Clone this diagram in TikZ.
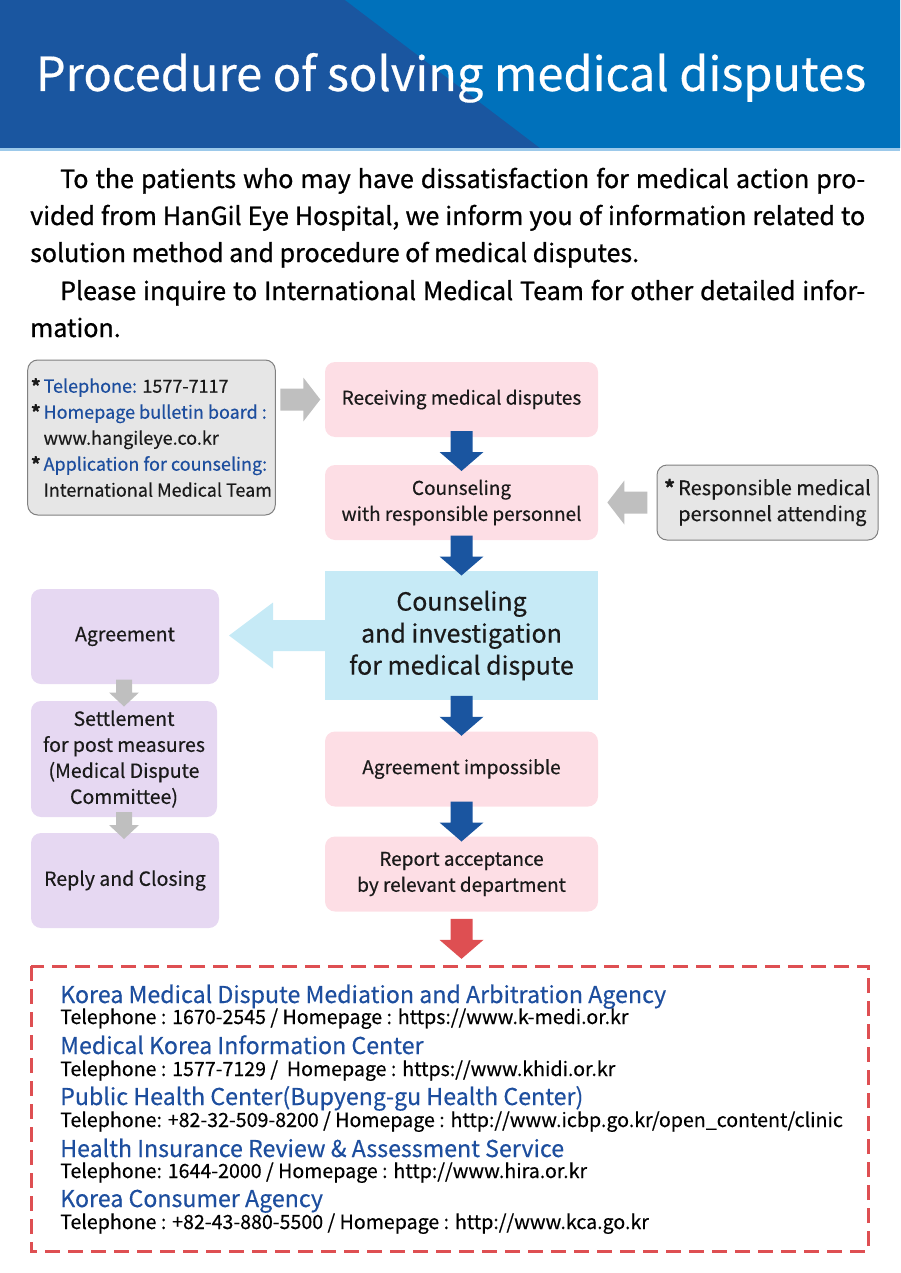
\documentclass[tikz,border=0pt]{standalone}
\usepackage{fontspec}
\setmainfont{Noto Sans CJK KR}[FakeBold=0.4]
\newfontfamily\paraface{Noto Sans CJK KR}[FakeBold=0.9]
\usetikzlibrary{calc}

\definecolor{hdark}{HTML}{1A56A0}
\definecolor{hlight}{HTML}{0071BB}
\definecolor{hline}{HTML}{9CC9EA}
\definecolor{pinkbg}{HTML}{FDDEE5}
\definecolor{skybg}{HTML}{C6EAF6}
\definecolor{lilacbg}{HTML}{E6D8F2}
\definecolor{greybg}{HTML}{E6E6E6}
\definecolor{greyline}{HTML}{808080}
\definecolor{greyarr}{HTML}{BFBFBF}
\definecolor{arrblue}{HTML}{1A55A0}
\definecolor{arrred}{HTML}{DE4F52}
\definecolor{txtblue}{HTML}{1D4E9E}
\definecolor{txtdark}{HTML}{1A1A1A}

\tikzset{
  pinkbox/.style={rounded corners=10pt, fill=pinkbg, minimum width=273pt, minimum height=75pt, align=center, text=txtdark, font=\fontsize{19}{26}\selectfont},
  skybox/.style={fill=skybg, minimum width=273pt, minimum height=129pt, align=center, text=txtdark, font=\fontsize{25}{32}\selectfont},
  lilacbox/.style={rounded corners=10pt, fill=lilacbg, minimum width=188pt, align=center, text=txtdark, font=\fontsize{19.5}{26}\selectfont},
  notebox/.style={rounded corners=10pt, fill=greybg, draw=greyline, line width=1pt, align=left, text=txtdark, font=\fontsize{18}{26}\selectfont},
  paraline/.style={anchor=base west, inner sep=0pt, text=black, font=\paraface\fontsize{25}{37}\selectfont},
  orgname/.style={anchor=base west, inner sep=0pt, text=txtblue, font=\fontsize{23.2}{30}\selectfont},
  orginfo/.style={anchor=base west, inner sep=0pt, text=black, font=\fontsize{19.6}{24}\selectfont},
  downarr/.pic={\path[pic actions] (-11,-20) -- (11,-20) -- (11,1) -- (22,1) -- (0,20) -- (-22,1) -- (-11,1) -- cycle;},
  smalldown/.pic={\path[pic actions] (-8,-13) -- (8,-13) -- (8,0) -- (15,0) -- (0,14) -- (-15,0) -- (-8,0) -- cycle;},
  rightarr/.pic={\path[pic actions] (-20,-11) -- (3,-11) -- (3,-22) -- (20,0) -- (3,22) -- (3,11) -- (-20,11) -- cycle;},
  leftarr/.pic={\path[pic actions] (20,-11) -- (-3,-11) -- (-3,-22) -- (-20,0) -- (-3,22) -- (-3,11) -- (20,11) -- cycle;},
  bigleftarr/.pic={\path[pic actions] (54,-15.5) -- (1,-15.5) -- (1,-33) -- (-43,0) -- (1,33) -- (1,15.5) -- (54,15.5) -- cycle;}
}
\newcommand{\bull}{\textbf{*}\,}

\begin{document}
\begin{tikzpicture}[x=1pt,y=-1pt]
\useasboundingbox (0,0) rectangle (900,1273);

% header
\fill[hdark] (0,0) rectangle (900,148);
\fill[hlight] (345,0) -- (900,0) -- (900,148) -- (540,148) -- cycle;
\fill[hline] (0,148) rectangle (900,151);
\node[anchor=base, text=white, font=\fontsize{47}{56}\selectfont] (title) at (451,91) {Procedure of solving medical disputes};

% introduction
\node[paraline] (p1) at (60,188) {\makebox[805pt][s]{To the patients who may have dissatisfaction for medical action pro-}};
\node[paraline] (p2) at (30,225) {\makebox[835pt][s]{vided from HanGil Eye Hospital, we inform you of information related to}};
\node[paraline] (p3) at (30,262) {solution method and procedure of medical disputes.};
\node[paraline] (p4) at (60,300) {\makebox[805pt][s]{Please inquire to International Medical Team for other detailed infor-}};
\node[paraline] (p5) at (30,337) {mation.};

% flow
\node[notebox, minimum width=241pt, minimum height=155pt] (info) at (151.5,437.5) {\bull\textcolor{txtblue}{Telephone:} 1577-7117\\
\bull\textcolor{txtblue}{Homepage bulletin board :}\\
\phantom{\bull}www.hangileye.co.kr\\
\bull\textcolor{txtblue}{Application for counseling:}\\
\phantom{\bull}International Medical Team};
\node[pinkbox] (recv) at (461.5,399.5) {Receiving medical disputes};
\node[pinkbox] (couns) at (461.5,502.5) {Counseling\\with responsible personnel};
\node[notebox, minimum width=221pt, minimum height=75pt, font=\fontsize{20}{26}\selectfont] (attend) at (767.5,502.5) {\bull Responsible medical\\\phantom{\bull}personnel attending};
\node[skybox] (invest) at (461.5,635.5) {Counseling\\and investigation\\for medical dispute};
\node[pinkbox] (impos) at (461.5,769) {Agreement impossible};
\node[pinkbox] (report) at (461.5,874) {Report acceptance\\by relevant department};
\node[lilacbox, minimum height=95pt] (agree) at (125,636.5) {Agreement};
\node[lilacbox, minimum height=116pt, minimum width=186pt] (settle) at (124,759) {Settlement\\for post measures\\(Medical Dispute\\Committee)};
\node[lilacbox, minimum height=95pt] (reply) at (125,880.5) {Reply and Closing};

% arrows
\pic[fill=greyarr] at ($(info.east |- recv.west)!.5!(recv.west)$) {rightarr};
\pic[fill=greyarr] at ($(couns.east)!.5!(attend.west)$) {leftarr};
\pic[fill=arrblue] at ($(recv.south)!.5!(couns.north)$) {downarr};
\pic[fill=arrblue] at ($(couns.south)!.5!(invest.north)$) {downarr};
\pic[fill=arrblue] at ($(invest.south)!.5!(impos.north)$) {downarr};
\pic[fill=arrblue] at ($(impos.south)!.5!(report.north)$) {downarr};
\pic[fill=skybg] at ($(agree.east |- invest.west)!.5!(invest.west)$) {bigleftarr};
\pic[fill=greyarr] at ($(agree.south -| settle.north)!.5!(settle.north)$) {smalldown};
\pic[fill=greyarr] at ($(settle.south)!.5!(reply.north -| settle.south)$) {smalldown};
\coordinate (listtop) at (461.5,966);
\pic[fill=arrred] at ($(report.south)!.5!(listtop)$) {downarr};

% contacts
\draw[arrred, line width=3pt, dash pattern=on 15pt off 8pt] (31,966) rectangle (868,1251);
\node[orgname] (o1) at (60,1003) {Korea Medical Dispute Mediation and Arbitration Agency};
\node[orginfo] (i1) at (60,1024) {Telephone : 1670-2545 / Homepage : https://www.k-medi.or.kr};
\node[orgname] (o2) at (60,1054) {Medical Korea Information Center};
\node[orginfo] (i2) at (60,1076) {Telephone : 1577-7129 /\ \ Homepage : https://www.khidi.or.kr};
\node[orgname] (o3) at (60,1105) {Public Health Center(Bupyeng-gu Health Center)};
\node[orginfo] (i3) at (60,1127) {Telephone: +82-32-509-8200 / Homepage : http://www.icbp.go.kr/open\_content/clinic};
\node[orgname] (o4) at (60,1157) {Health Insurance Review \& Assessment Service};
\node[orginfo] (i4) at (60,1178) {Telephone: 1644-2000 / Homepage : http://www.hira.or.kr};
\node[orgname] (o5) at (60,1207) {Korea Consumer Agency};
\node[orginfo] (i5) at (60,1229) {Telephone : +82-43-880-5500 / Homepage : http://www.kca.go.kr};
\end{tikzpicture}
\end{document}
